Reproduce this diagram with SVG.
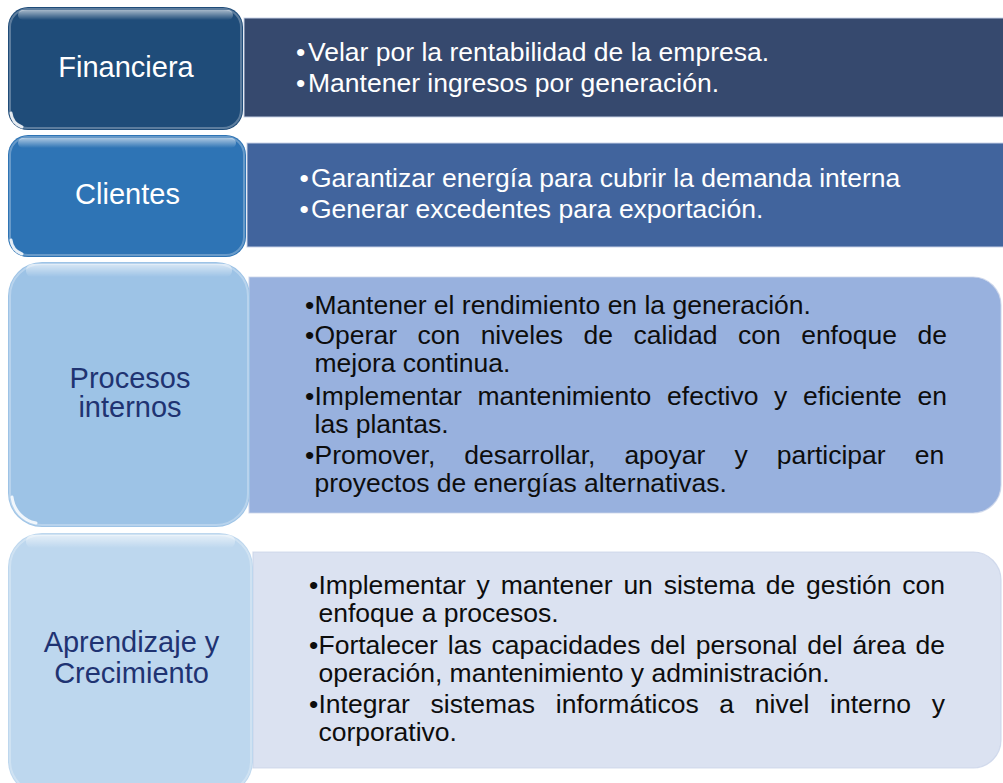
<svg xmlns="http://www.w3.org/2000/svg" width="1003" height="783" viewBox="0 0 1003 783">
<defs>
<linearGradient id="hl" x1="0" y1="0" x2="0" y2="1">
<stop offset="0" stop-color="#ffffff" stop-opacity="0.6"/>
<stop offset="1" stop-color="#ffffff" stop-opacity="0"/>
</linearGradient>
<style>
.lbl{font-family:"Liberation Sans",Arial,sans-serif;font-size:29px;text-anchor:middle}
.txt{font-family:"Liberation Sans",Arial,sans-serif;font-size:26.5px}
.w{fill:#ffffff}
.navy{fill:#1F3372}
.blk{fill:#0d0d0d}
.inner{fill:none;stroke:#ffffff;stroke-opacity:0.28;stroke-width:2}
.glint{fill:none;stroke:#ffffff;stroke-width:3;stroke-opacity:0.85;stroke-linecap:round}
.box{stroke:#c9d3e8;stroke-width:1.2;stroke-opacity:0.8}
</style>
</defs>
<rect width="1003" height="783" fill="#ffffff"/>

<g id="box-financiera">
<rect class="box" x="244" y="18" width="770" height="99" fill="#36496E"/>
<text class="txt w" y="61"><tspan x="296">•</tspan><tspan x="308">Velar por la rentabilidad de la empresa.</tspan></text>
<text class="txt w" y="92"><tspan x="296">•</tspan><tspan x="308">Mantener ingresos por generación.</tspan></text>
</g>

<g id="box-clientes">
<rect class="box" x="247" y="143" width="767" height="104" fill="#41649D"/>
<text class="txt w" y="187"><tspan x="299.5">•</tspan><tspan x="311">Garantizar energía para cubrir la demanda interna</tspan></text>
<text class="txt w" y="218"><tspan x="299.5">•</tspan><tspan x="311">Generar excedentes para exportación.</tspan></text>
</g>

<g id="box-procesos">
<path class="box" d="M249 277 H973 A28 28 0 0 1 1001 305 V485 A28 28 0 0 1 973 513 H249 Z" fill="#98B1DE"/>
<text class="txt blk" y="314"><tspan x="305">•</tspan><tspan x="314.5">Mantener el rendimiento en la generación.</tspan></text>
<text class="txt blk" y="344"><tspan x="305">•</tspan><tspan x="314.5" word-spacing="13.1">Operar con niveles de calidad con enfoque de</tspan></text>
<text class="txt blk" y="372"><tspan x="314.5">mejora continua.</tspan></text>
<text class="txt blk" y="405"><tspan x="305">•</tspan><tspan x="314.5" word-spacing="8.37">Implementar mantenimiento efectivo y eficiente en</tspan></text>
<text class="txt blk" y="433"><tspan x="314.5">las plantas.</tspan></text>
<text class="txt blk" y="464"><tspan x="305">•</tspan><tspan x="314.5" word-spacing="21.65">Promover, desarrollar, apoyar y participar en</tspan></text>
<text class="txt blk" y="492"><tspan x="314.5">proyectos de energías alternativas.</tspan></text>
</g>

<g id="box-aprendizaje">
<path class="box" d="M253 552 H973 A28 28 0 0 1 1001 580 V740 A28 28 0 0 1 973 768 H253 Z" fill="#DBE2F1"/>
<text class="txt blk" y="594"><tspan x="309">•</tspan><tspan x="318.5" word-spacing="3.44">Implementar y mantener un sistema de gestión con</tspan></text>
<text class="txt blk" y="622"><tspan x="318.5">enfoque a procesos.</tspan></text>
<text class="txt blk" y="654"><tspan x="309">•</tspan><tspan x="318.5" word-spacing="2.6">Fortalecer las capacidades del personal del área de</tspan></text>
<text class="txt blk" y="682"><tspan x="318.5">operación, mantenimiento y administración.</tspan></text>
<text class="txt blk" y="713"><tspan x="309">•</tspan><tspan x="318.5" word-spacing="13.35">Integrar sistemas informáticos a nivel interno y</tspan></text>
<text class="txt blk" y="741"><tspan x="318.5">corporativo.</tspan></text>
</g>

<g id="tab-financiera">
<rect x="8" y="7" width="235" height="123" rx="20" fill="#1F4C79"/>
<rect class="inner" x="10" y="9" width="231" height="119" rx="18"/>
<rect x="18" y="10" width="215" height="10" rx="5" fill="url(#hl)"/>
<path class="glint" d="M11 113 A17 17 0 0 0 22 127"/>
<text class="lbl w" x="126" y="77">Financiera</text>
</g>

<g id="tab-clientes">
<rect x="8" y="135" width="238" height="122" rx="20" fill="#2E74B5"/>
<rect class="inner" x="10" y="137" width="234" height="118" rx="18"/>
<rect x="18" y="138" width="218" height="10" rx="5" fill="url(#hl)"/>
<path class="glint" d="M11 240 A17 17 0 0 0 22 254"/>
<text class="lbl w" x="127.5" y="204">Clientes</text>
</g>

<g id="tab-procesos">
<rect x="8" y="262" width="242" height="265" rx="34" fill="#9DC3E6"/>
<rect class="inner" x="10" y="264" width="238" height="261" rx="32"/>
<rect x="26" y="264" width="206" height="13" rx="6" fill="url(#hl)"/>
<path class="glint" d="M12 497 A30 30 0 0 0 36 523"/>
<text class="lbl navy" x="130" y="388">Procesos</text>
<text class="lbl navy" x="130" y="417">internos</text>
</g>

<g id="tab-aprendizaje">
<rect x="8" y="533" width="245" height="262" rx="34" fill="#BDD7EE"/>
<rect class="inner" x="10" y="535" width="241" height="258" rx="32"/>
<rect x="26" y="535" width="209" height="13" rx="6" fill="url(#hl)"/>
<text class="lbl navy" x="131.5" y="652">Aprendizaje y</text>
<text class="lbl navy" x="131.5" y="683">Crecimiento</text>
</g>

<g id="connectors"></g>
</svg>
